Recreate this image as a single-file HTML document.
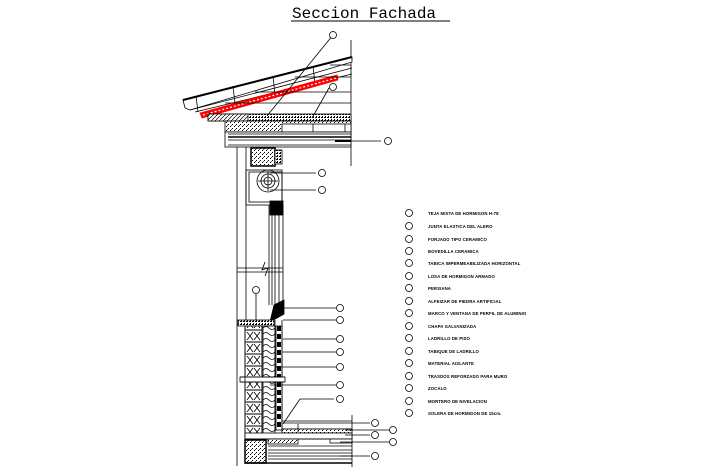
<!DOCTYPE html>
<html><head><meta charset="utf-8"><style>
html,body{margin:0;padding:0;background:#fff;}
svg{display:block}
.t{font-family:"Liberation Sans",sans-serif;font-size:4.3px;font-weight:bold;fill:#000;letter-spacing:0.1px}
</style></head><body>
<svg width="708" height="467" viewBox="0 0 708 467" xmlns="http://www.w3.org/2000/svg">
<defs>
<pattern id="dots" width="4" height="4" patternUnits="userSpaceOnUse"><rect width="4" height="4" fill="#fff"/><rect x="0" y="0" width="1" height="1" fill="#000"/><rect x="2" y="2" width="1" height="1" fill="#000"/><rect x="3" y="1" width="1" height="1" fill="#555"/></pattern>
<pattern id="dense" width="3" height="3" patternUnits="userSpaceOnUse"><rect width="3" height="3" fill="#fff"/><rect width="2" height="1" fill="#000"/><rect x="1" y="2" width="1" height="1" fill="#000"/></pattern>
<pattern id="hatch" width="4" height="4" patternUnits="userSpaceOnUse"><rect width="4" height="4" fill="#fff"/><path d="M0 4L4 0" stroke="#000" stroke-width="0.7"/></pattern>
<pattern id="brick" x="245" y="330" width="17" height="12" patternUnits="userSpaceOnUse"><rect width="17" height="12" fill="#fff" stroke="#000" stroke-width="1"/><path d="M2 2L8 10M8 2L2 10M9 2L15 10M15 2L9 10" stroke="#000" stroke-width="0.8"/></pattern>
<pattern id="wave" x="263" y="325" width="12" height="6" patternUnits="userSpaceOnUse"><rect width="12" height="6" fill="#fff"/><path d="M0 3Q3 0 6 3T12 3" stroke="#000" fill="none" stroke-width="0.8"/></pattern>
<pattern id="blk" x="276" y="325" width="6" height="8" patternUnits="userSpaceOnUse"><rect width="6" height="8" fill="#fff"/><rect x="1" y="1" width="4" height="5" fill="#000"/></pattern>
</defs>

<text x="292" y="18" font-family="Liberation Mono,monospace" font-size="16" fill="#000">Seccion Fachada</text>
<line x1="291" y1="21" x2="450" y2="21" stroke="#000" stroke-width="1"/>

<g stroke="#000" stroke-width="0.8" fill="none">
<line x1="351" y1="40" x2="351" y2="166"/>
<polygon points="183,100 352,57 352,62 190,110 185,108" fill="#fff"/>
<path d="M183 100L352 57" stroke-width="2"/>
<path d="M190 110L352 68" />
<path d="M195 112L352 74"/>
<line x1="196" y1="96" x2="198" y2="112"/>
<line x1="233" y1="86" x2="235" y2="104"/>
<line x1="273" y1="76" x2="275" y2="95"/>
<line x1="313" y1="66" x2="315" y2="84"/>
<polygon points="200,113 337,75 338,80 202,118" fill="#f00" stroke="#f00"/>
<path d="M203 115L336 78" stroke="#fff" stroke-width="1.2" stroke-dasharray="2 2"/>
<line x1="330" y1="65" x2="351" y2="65"/>
<line x1="295" y1="77" x2="351" y2="77"/>
<line x1="255" y1="92" x2="351" y2="92"/>
<line x1="225" y1="103" x2="351" y2="103"/>
<rect x="208" y="114" width="143" height="7" fill="url(#dense)"/>
<rect x="208" y="114" width="40" height="7" fill="url(#hatch)"/>
<rect x="225" y="121" width="126" height="11" fill="url(#dots)"/>
<rect x="282" y="124" width="69" height="8" fill="#fff"/>
<line x1="313" y1="124" x2="313" y2="132"/><line x1="345" y1="124" x2="345" y2="132"/>
<rect x="225" y="132" width="126" height="15" fill="#fff"/>
<line x1="228" y1="134" x2="351" y2="134"/>
<line x1="228" y1="137" x2="351" y2="137" stroke-width="1.5"/>
<line x1="228" y1="140" x2="351" y2="140"/>
<line x1="228" y1="145" x2="351" y2="145"/>
<line x1="335" y1="141" x2="351" y2="141" stroke-width="2"/>

<line x1="237" y1="147" x2="237" y2="466"/>
<line x1="246" y1="147" x2="246" y2="320"/>
<rect x="251" y="148" width="24" height="18" fill="url(#dots)" stroke-width="1.5"/>
<rect x="275" y="150" width="7" height="14" fill="url(#dense)"/>
<rect x="246" y="170" width="36" height="35"/>
<rect x="249" y="172" width="33" height="30"/>
<circle cx="268" cy="181" r="11"/><circle cx="268" cy="181" r="7"/><circle cx="268" cy="181" r="4"/>
<line x1="258" y1="181" x2="278" y2="181"/><line x1="268" y1="171" x2="268" y2="191"/>
<rect x="270" y="201" width="13" height="14" fill="#000"/>
<line x1="269" y1="205" x2="269" y2="305"/>
<line x1="272" y1="205" x2="272" y2="305"/>
<line x1="275" y1="205" x2="275" y2="305"/>
<line x1="279" y1="205" x2="279" y2="305"/>
<line x1="283" y1="205" x2="283" y2="305"/>
<line x1="237" y1="268" x2="283" y2="268"/>
<line x1="237" y1="272" x2="283" y2="272"/>
<path d="M265 262L262 270L268 268L265 276" />
<polygon points="274,305 284,300 284,314 270,322" fill="#000"/>
<rect x="238" y="320" width="36" height="6" fill="url(#dense)"/>

<rect x="245" y="326" width="17" height="110" fill="url(#brick)"/>
<rect x="263" y="326" width="12" height="110" fill="url(#wave)"/>
<rect x="276" y="326" width="6" height="104" fill="url(#blk)"/>
<line x1="282" y1="320" x2="282" y2="432"/>
<line x1="275" y1="320" x2="275" y2="432"/>
<rect x="240" y="377" width="45" height="5" fill="#fff"/>
<line x1="240" y1="377" x2="285" y2="377"/><line x1="240" y1="382" x2="285" y2="382"/>
<line x1="245" y1="326" x2="245" y2="440"/>
<line x1="352" y1="415" x2="352" y2="467"/>
<line x1="282" y1="421" x2="352" y2="421"/>
<line x1="282" y1="429" x2="352" y2="429"/>
<rect x="282" y="429" width="70" height="4" fill="url(#dots)"/>
<rect x="245" y="433" width="107" height="6" fill="#fff"/>
<line x1="245" y1="439" x2="352" y2="439"/>
<rect x="268" y="439" width="30" height="5" fill="url(#dots)"/>
<rect x="330" y="439" width="22" height="4" fill="#fff"/>
<rect x="245" y="440" width="21" height="23" fill="url(#dots)" stroke-width="1.5"/>
<line x1="268" y1="446" x2="352" y2="446"/>
<line x1="268" y1="450" x2="352" y2="450"/>
<line x1="268" y1="453" x2="352" y2="453"/>
<line x1="268" y1="456" x2="352" y2="456"/>
<line x1="268" y1="459" x2="352" y2="459"/>
<line x1="245" y1="463" x2="352" y2="463" stroke-width="1.5"/>
<line x1="298" y1="424" x2="298" y2="432"/>

<line x1="333" y1="35" x2="267" y2="116"/>
<line x1="329" y1="88" x2="312" y2="118"/>
<line x1="335" y1="141" x2="381" y2="141"/>
<line x1="270" y1="173" x2="316" y2="173"/>
<line x1="270" y1="190" x2="316" y2="190"/>
<line x1="256" y1="294" x2="256" y2="320"/>
<line x1="283" y1="308" x2="336" y2="308"/>
<line x1="283" y1="320" x2="336" y2="320"/>
<line x1="283" y1="339" x2="336" y2="339"/>
<line x1="283" y1="352" x2="336" y2="352"/>
<line x1="275" y1="367" x2="336" y2="367"/>
<line x1="270" y1="385" x2="336" y2="385"/>
<line x1="334" y1="399" x2="300" y2="399"/><line x1="300" y1="399" x2="283" y2="424"/>
<line x1="283" y1="423" x2="370" y2="423"/>
<line x1="345" y1="430" x2="389" y2="430"/>
<line x1="345" y1="435" x2="370" y2="435"/>
<line x1="340" y1="442" x2="389" y2="442"/>
<line x1="340" y1="456" x2="370" y2="456"/>
</g>
<g fill="#fff" stroke="#000" stroke-width="0.8">
<circle cx="333" cy="35" r="3.5"/>
<circle cx="333" cy="87" r="3.5"/>
<circle cx="388" cy="141" r="3.5"/>
<circle cx="322" cy="173" r="3.5"/>
<circle cx="322" cy="190" r="3.5"/>
<circle cx="256" cy="290" r="3.5"/>
<circle cx="340" cy="308" r="3.5"/>
<circle cx="340" cy="320" r="3.5"/>
<circle cx="340" cy="339" r="3.5"/>
<circle cx="340" cy="352" r="3.5"/>
<circle cx="340" cy="367" r="3.5"/>
<circle cx="340" cy="385" r="3.5"/>
<circle cx="340" cy="399" r="3.5"/>
<circle cx="375" cy="423" r="3.5"/>
<circle cx="393" cy="430" r="3.5"/>
<circle cx="375" cy="435" r="3.5"/>
<circle cx="393" cy="442" r="3.5"/>
<circle cx="375" cy="456" r="3.5"/>
</g>

<g fill="#fff" stroke="#000" stroke-width="0.8">
<circle cx="409" cy="213" r="3.5"/><circle cx="409" cy="226" r="3.5"/><circle cx="409" cy="239" r="3.5"/>
<circle cx="409" cy="251" r="3.5"/><circle cx="409" cy="263" r="3.5"/><circle cx="409" cy="276" r="3.5"/>
<circle cx="409" cy="288" r="3.5"/><circle cx="409" cy="301" r="3.5"/><circle cx="409" cy="313" r="3.5"/>
<circle cx="409" cy="326" r="3.5"/><circle cx="409" cy="338" r="3.5"/><circle cx="409" cy="351" r="3.5"/>
<circle cx="409" cy="363" r="3.5"/><circle cx="409" cy="376" r="3.5"/><circle cx="409" cy="388" r="3.5"/>
<circle cx="409" cy="401" r="3.5"/><circle cx="409" cy="413" r="3.5"/>
</g>
<g class="t">
<text x="428" y="215">TEJA MIXTA DE HORMIGON H-78</text>
<text x="428" y="228">JUNTA ELASTICA DEL ALERO</text>
<text x="428" y="241">FORJADO TIPO CERAMICO</text>
<text x="428" y="253">BOVEDILLA CERAMICA</text>
<text x="428" y="265">TABICA IMPERMEABILIZADA HORIZONTAL</text>
<text x="428" y="278">LOSA DE HORMIGON ARMADO</text>
<text x="428" y="290">PERSIANA</text>
<text x="428" y="303">ALFEIZAR DE PIEDRA ARTIFICIAL</text>
<text x="428" y="315">MARCO Y VENTANA DE PERFIL DE ALUMINIO</text>
<text x="428" y="328">CHAPA GALVANIZADA</text>
<text x="428" y="340">LADRILLO DE PISO</text>
<text x="428" y="353">TABIQUE DE LADRILLO</text>
<text x="428" y="365">MATERIAL AISLANTE</text>
<text x="428" y="378">TRASDOS REFORZADO PARA MURO</text>
<text x="428" y="390">ZOCALO</text>
<text x="428" y="403">MORTERO DE NIVELACION</text>
<text x="428" y="415">SOLERA DE HORMIGON DE 15cm.</text>
</g>
</svg>
</body></html>
